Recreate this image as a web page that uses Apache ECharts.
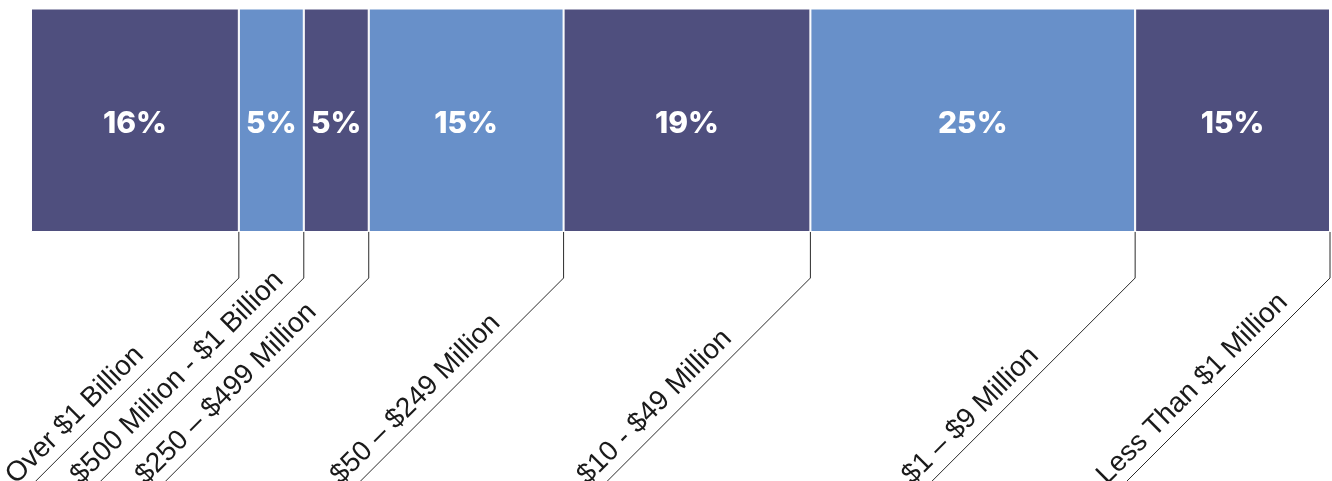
<!DOCTYPE html>
<html>
<head>
<meta charset="utf-8">
<script src="https://cdn.jsdelivr.net/npm/echarts@6/dist/echarts.min.js"></script>
<style>
  html, body { margin: 0; padding: 0; background: #ffffff; }
  #chart { width: 1332px; height: 481px; }
</style>
</head>
<body>
<div id="chart"></div>
<script>
// Revenue bands (left to right) and their share in percent
const categories = [
  'Over $1 Billion',
  '$500 Million - $1 Billion',
  '$250 \u2013 $499 Million',
  '$50 \u2013 $249 Million',
  '$10 - $49 Million',
  '$1 \u2013 $9 Million',
  'Less Than $1 Million'
];
const shares = [16, 5, 5, 15, 19, 25, 15];
const segmentColors = ['#4f4f7e', '#6890c9', '#4f4f7e', '#6890c9', '#4f4f7e', '#6890c9', '#4f4f7e'];

const chart = echarts.init(document.getElementById('chart'), null, { renderer: 'canvas' });

// Right-hand boundary of every segment (cumulative share), used for the leader lines
const boundaries = [];
let running = 0;
shares.forEach((v, i) => { running += v; boundaries.push([running, 0, i]); });

const barSeries = shares.map((v, i) => ({
  name: categories[i],
  type: 'bar',
  stack: 'total',
  barWidth: '100%',
  data: [v],
  itemStyle: { color: segmentColors[i], borderColor: '#ffffff', borderWidth: 1 },
  label: {
    show: true,
    position: 'inside',
    formatter: '{c}%',
    color: '#ffffff',
    fontFamily: 'Inter',
    fontWeight: 800,
    fontSize: 30,
    offset: [0, 4]
  },
  emphasis: { disabled: true },
  silent: true
}));

const SQ = Math.SQRT1_2;

const leaderSeries = {
  type: 'custom',
  clip: false,
  silent: true,
  z: 5,
  encode: { x: 0, y: 1 },
  data: boundaries,
  renderItem: function (params, api) {
    const c = api.coord([api.value(0), api.value(1)]);
    const band = api.size([0, 1])[1];
    const x0 = c[0];
    const bottom = c[1] + band / 2;
    const vy = bottom + 46;
    const L = 330;
    const along = 304;
    const perp = 5;
    const bx = x0 - (along + perp) * SQ;
    const by = vy + (along - perp) * SQ;
    return {
      type: 'group',
      children: [
        {
          type: 'polyline',
          shape: { points: [[x0, bottom], [x0, vy], [x0 - L, vy + L]] },
          style: { stroke: '#2b2b2b', lineWidth: 1, fill: null }
        },
        {
          type: 'text',
          x: bx,
          y: by,
          rotation: Math.PI / 4,
          style: {
            text: categories[api.value(2)],
            x: 0,
            y: 0,
            fill: '#1a1a1a',
            fontFamily: 'Liberation Sans',
            fontSize: 28,
            fontWeight: 'normal',
            align: 'left',
            verticalAlign: 'bottom'
          }
        }
      ]
    };
  }
};

chart.setOption({
  animation: false,
  backgroundColor: '#ffffff',
  grid: { left: 31, right: 2, top: 8.5, height: 223.5 },
  xAxis: { type: 'value', min: 0, max: 100, show: false },
  yAxis: { type: 'category', data: ['Share'], show: false },
  series: barSeries.concat([leaderSeries])
});
</script>
</body>
</html>
